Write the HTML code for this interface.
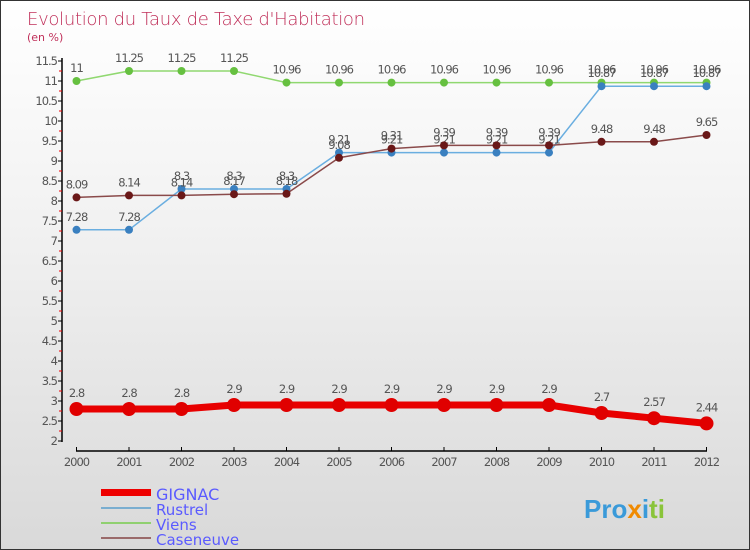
<!DOCTYPE html>
<html><head><meta charset="utf-8"><style>
body{margin:0}
#c{position:relative;width:748px;height:548px;border:1px solid #333;background:linear-gradient(#fff 0%,#f2f2f2 40%,#d9d9d9 100%);font-family:"DejaVu Sans","Liberation Sans",sans-serif;overflow:hidden}
</style></head><body>
<div id="c">
<svg id="s" width="748" height="548" xmlns="http://www.w3.org/2000/svg">
<text x="26" y="24" font-size="18" fill="#c0305a" font-family="DejaVu Sans" font-weight="200" letter-spacing="-0.3">Evolution du Taux de Taxe d'Habitation</text>
<text x="26" y="40" font-size="11" fill="#c0305a">(en %)</text>
<g id="plot"></g>
<g>
<rect x="100" y="488" width="50" height="7" fill="#e00"/>
<text x="155" y="499" font-size="16" fill="#5a5aff">GIGNAC</text>
<rect x="100" y="506" width="50" height="2" fill="#7aaed0"/>
<text x="155" y="514" font-size="15" fill="#5a5aff">Rustrel</text>
<rect x="100" y="521" width="50" height="2" fill="#90d070"/>
<text x="155" y="529" font-size="15" fill="#5a5aff">Viens</text>
<rect x="100" y="536" width="50" height="2" fill="#9a6a6a"/>
<text x="155" y="544" font-size="15" fill="#5a5aff">Caseneuve</text>
</g>
<g>
<text x="583" y="517" font-size="26" font-weight="bold" font-family="Liberation Sans"><tspan fill="#3a9ad9">Pro</tspan><tspan fill="#f08a00">x</tspan><tspan fill="#3a9ad9">i</tspan><tspan fill="#8ac43a">ti</tspan></text>
</g>
</svg>
</div>
<script>
const years=[2000,2001,2002,2003,2004,2005,2006,2007,2008,2009,2010,2011,2012];
const gignac=[2.8,2.8,2.8,2.9,2.9,2.9,2.9,2.9,2.9,2.9,2.7,2.57,2.44];
const rustrel=[7.28,7.28,8.3,8.3,8.3,9.21,9.21,9.21,9.21,9.21,10.87,10.87,10.87];
const viens=[11,11.25,11.25,11.25,10.96,10.96,10.96,10.96,10.96,10.96,10.96,10.96,10.96];
const caseneuve=[8.09,8.14,8.14,8.17,8.18,9.08,9.31,9.39,9.39,9.39,9.48,9.48,9.65];
const yTicks=[2,2.5,3,3.5,4,4.5,5,5.5,6,6.5,7,7.5,8,8.5,9,9.5,10,10.5,11,11.5];
const NS="http://www.w3.org/2000/svg";
const g=document.getElementById('plot');
function X(i){return 75.5+i*52.5;}
function Y(v){return 440-(v-2)*40;}
function el(t,a){const e=document.createElementNS(NS,t);for(const k in a)e.setAttribute(k,a[k]);g.appendChild(e);return e;}
let e=el('line',{x1:61,y1:57,x2:61,y2:441,stroke:'#000','stroke-width':1.5});


e=el('line',{x1:75,y1:450,x2:706,y2:450,stroke:'#000','stroke-width':1.5});


yTicks.forEach(v=>{
 let t=el('line',{x1:57,y1:Y(v),x2:61,y2:Y(v),stroke:'#000'});
 
 
 if(v<11.5){let r=el('line',{x1:58,y1:Y(v+0.25),x2:61,y2:Y(v+0.25),stroke:'#e00'});
 
 }
 let l=el('text',{x:56,y:Y(v)+4,'font-size':11.5,fill:'#555','text-anchor':'end','letter-spacing':'-1'});
 l.textContent=String(v);
 
 
});
years.forEach((yr,i)=>{
 let t=el('line',{x1:X(i),y1:446,x2:X(i),y2:450,stroke:'#000'});
 
 
 let l=el('text',{x:X(i),y:465,'font-size':11.5,fill:'#555','text-anchor':'middle','letter-spacing':'-1'});
 l.textContent=yr;
 
 
});
function series(d,name,color,dot,w,r){
 let p=el('polyline',{points:d.map((v,i)=>X(i)+','+Y(v)).join(' '),fill:'none',stroke:color,'stroke-width':w,'stroke-linejoin':'round'});
 
 
 d.forEach((v,i)=>{
  let c=el('circle',{cx:X(i),cy:Y(v),r:r,fill:dot});
  
  
  let l=el('text',{x:X(i),y:Y(v)-(r+5),'font-size':11.5,fill:'#555','text-anchor':'middle','letter-spacing':'-1'});
  l.textContent=String(v);
  
  
 });
}
series(viens,'viens','#90d870','#66c040',1.5,4);
series(rustrel,'rustrel','#6aaee0','#3a80c0',1.5,4);
series(caseneuve,'caseneuve','#8a4a4a','#6a1818',1.5,4);
series(gignac,'gignac','#e80000','#e00000',7,7);
</script>
</body></html>
